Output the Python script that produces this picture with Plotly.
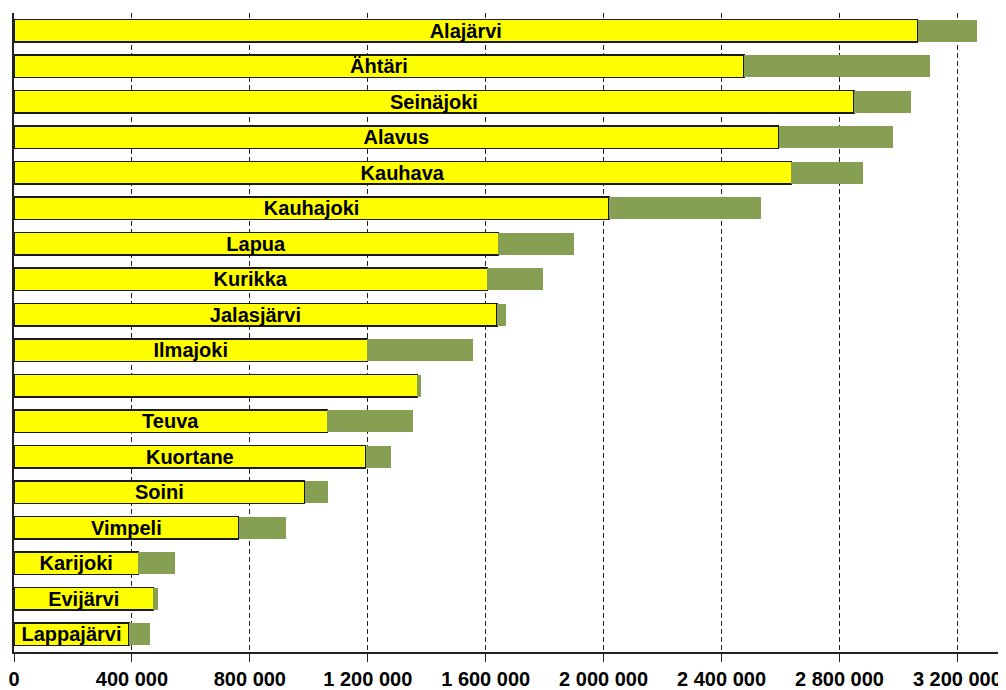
import plotly.graph_objects as go

categories = ["Alajärvi", "Ähtäri", "Seinäjoki", "Alavus", "Kauhava", "Kauhajoki",
              "Lapua", "Kurikka", "Jalasjärvi", "Ilmajoki", "(tyhjä)", "Teuva",
              "Kuortane", "Soini", "Vimpeli", "Karijoki", "Evijärvi", "Lappajärvi"]
bar_labels = ["Alajärvi", "Ähtäri", "Seinäjoki", "Alavus", "Kauhava", "Kauhajoki",
              "Lapua", "Kurikka", "Jalasjärvi", "Ilmajoki", "", "Teuva",
              "Kuortane", "Soini", "Vimpeli", "Karijoki", "Evijärvi", "Lappajärvi"]
yellow_values = [3065000, 2476000, 2849000, 2594000, 2637000, 2019000,
                 1643000, 1606000, 1638000, 1199000, 1368000, 1063000,
                 1193000, 986000, 762000, 422000, 473000, 390000]
green_values = [201000, 632000, 193000, 389000, 244000, 514000,
                257000, 189000, 32000, 359000, 13000, 289000,
                85000, 78000, 161000, 125000, 15000, 72000]
tick_values = [0, 400000, 800000, 1200000, 1600000, 2000000, 2400000, 2800000, 3200000]
tick_labels = ["0", "400 000", "800 000", "1 200 000", "1 600 000", "2 000 000",
               "2 400 000", "2 800 000", "3 200 000"]

font_family = "Liberation Sans, Arial, sans-serif"

fig = go.Figure()
fig.add_trace(go.Bar(
    y=categories, x=yellow_values, orientation="h",
    marker=dict(color="#FFFF00", line=dict(color="#1a1a1a", width=1.5)),
    width=0.63,
    text=bar_labels, textposition="inside", insidetextanchor="middle",
    constraintext="none", textangle=0,
    textfont=dict(family=font_family, size=20, color="black", weight="bold"),
    hoverinfo="skip",
))
fig.add_trace(go.Bar(
    y=categories, x=green_values, orientation="h",
    marker=dict(color="#879F52", line=dict(width=0)),
    width=0.63, hoverinfo="skip",
))
fig.update_layout(
    barmode="stack",
    width=998, height=682,
    margin=dict(l=6, r=0, t=5, b=35),
    plot_bgcolor="white", paper_bgcolor="white",
    showlegend=False,
    xaxis=dict(
        range=[0, 3365000], tickvals=tick_values, ticktext=tick_labels,
        showgrid=True, gridcolor="#222222", gridwidth=1, griddash="5px,3px",
        showline=True, linecolor="#222222", linewidth=1.5,
        ticks="outside", ticklen=8, tickcolor="#222222",
        tickfont=dict(family=font_family, size=20, color="black", weight="bold"),
        ticklabeloverflow="allow",
        zeroline=False, fixedrange=True,
    ),
    yaxis=dict(
        categoryorder="array", categoryarray=categories, autorange="reversed",
        showticklabels=False, showgrid=False, zeroline=False,
        showline=True, linecolor="#222222", linewidth=1.5,
        ticks="", fixedrange=True,
    ),
)
fig.write_html("out.html")
